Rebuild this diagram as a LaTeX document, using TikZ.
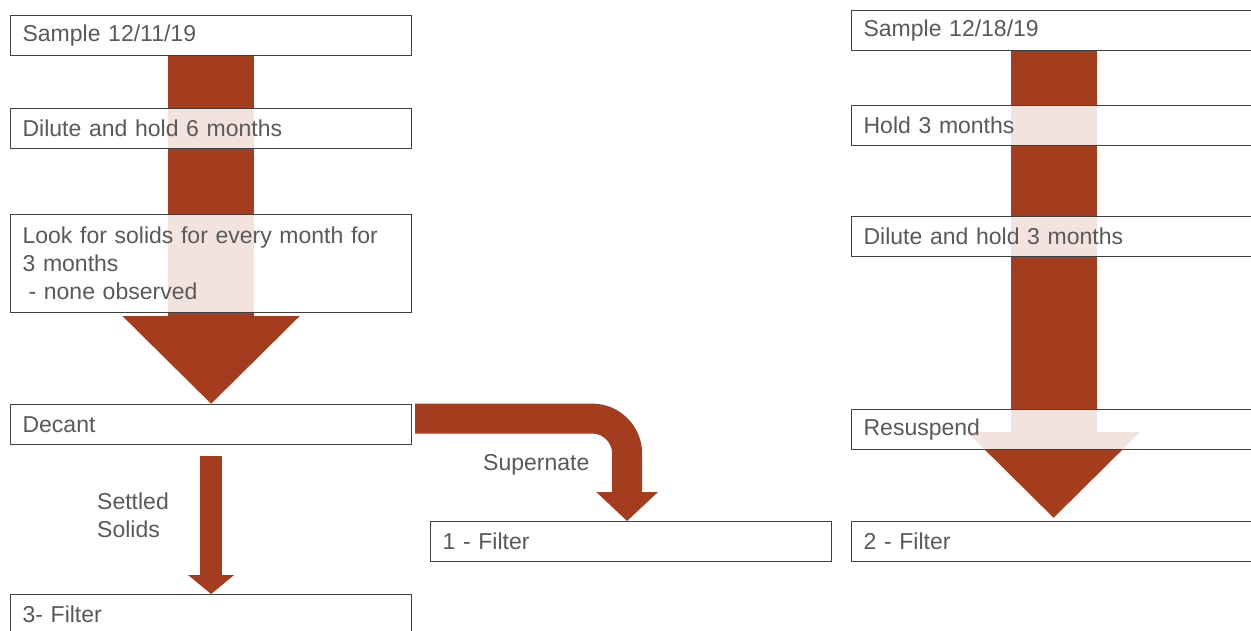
\documentclass[tikz,border=0pt]{standalone}
\usepackage{fontspec}
\setmainfont{Liberation Sans}
\usepackage{xcolor}
\usepackage{tikz}
\usetikzlibrary{arrows.meta,backgrounds}
\definecolor{arrowbrown}{RGB}{163,61,30}
\definecolor{boxgray}{RGB}{64,64,64}
\definecolor{textgray}{RGB}{89,89,89}

\begin{document}
\begin{tikzpicture}[x=1pt,y=-1pt,
	procbox/.style={draw=boxgray,line width=1.2pt,fill=white,fill opacity=0.86,text opacity=1,
		text=textgray,anchor=north west,minimum height=40pt,inner xsep=12pt,
		align=left,font=\fontsize{23}{28}\selectfont},
	leftbox/.style={procbox,minimum width=401pt,text width=377pt},
	rightbox/.style={procbox,minimum width=404pt,text width=380pt},
	steplabel/.style={text=textgray,anchor=base west,align=left,inner sep=0pt,
		font=\fontsize{23}{28}\selectfont}]
	\useasboundingbox (0,0) rectangle (1251,631);
	% left column
	\node (s1) at(10,15)[leftbox]{Sample 12/11/19};
	\node (dil6) at(10,108)[leftbox]{Dilute and hold 6 months};
	\node (look) at(10,214)[leftbox,minimum height=98pt]{Look for solids for every month for\\3 months\\\hspace*{6pt}- none observed};
	\node (decant) at(10,404)[leftbox]{Decant};
	\node (f3) at(10,594)[leftbox]{3- Filter};
	% middle
	\node (f1) at(430,521)[leftbox]{1 - Filter};
	% right column
	\node (s2) at(851,10)[rightbox]{Sample 12/18/19};
	\node (hold3) at(851,105)[rightbox]{Hold 3 months};
	\node (dil3) at(851,216)[rightbox]{Dilute and hold 3 months};
	\node (resus) at(851,409)[rightbox]{Resuspend};
	\node (f2) at(851,521)[rightbox]{2 - Filter};
	% labels
	\node (settled) at(97,537)[steplabel]{Settled\\Solids};
	\node (super) at(483,470)[steplabel]{Supernate};
	% arrows behind the boxes
	\begin{scope}[on background layer]
		\draw[arrowbrown,line width=86pt,-{Triangle[length=88pt,width=172pt]}] (s1.south) -- (decant.north);
		\draw[arrowbrown,line width=86pt,-{Triangle[length=86pt,width=168pt]},shorten >=3pt] (s2.south) -- (f2.north);
		\draw[arrowbrown,line width=22pt,-{Triangle[length=19pt,width=45pt]},shorten <=11pt] (decant.south) -- (f3.north);
		\draw[arrowbrown,line width=30pt,rounded corners=35pt,-{Triangle[length=29pt,width=60pt]},shorten <=3pt]
			([yshift=6pt]decant.east) -| ([xshift=-4pt]f1.north);
	\end{scope}
\end{tikzpicture}
\end{document}
